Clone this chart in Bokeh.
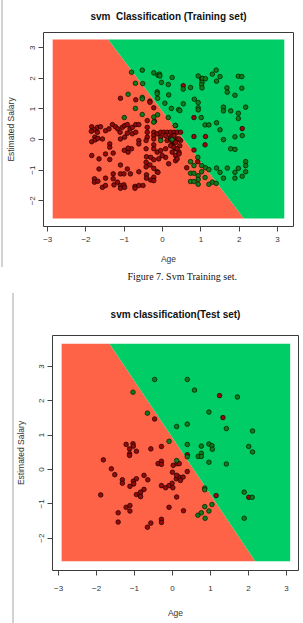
from bokeh.plotting import figure
from bokeh.models import Range1d, FixedTicker, Title
from bokeh.embed import file_html
from bokeh.resources import INLINE

# ---------------- data ----------------
x_ticks = [-3, -2, -1, 0, 1, 2, 3]
y_ticks = [-2, -1, 0, 1, 2, 3]

# SVM decision boundary: y = slope * (x - x_at_zero)
boundary_x_at_zero = 0.56
boundary_slope = -1.65

# extent of the prediction grid (scaled Age, scaled Estimated Salary)
train_grid_x = [-2.87, 3.18]
train_grid_y = [-2.58, 3.27]
test_grid_x = [-2.92, 3.10]
test_grid_y = [-2.67, 3.66]

# training set: class 1 (purchased, green) and class 0 (red)
train_pos_x = [-0.81, -0.53, -0.23, -0.12, -0.08, -0.07, 0.25, -0.03, 0.15, -0.71, -0.52, -0.14, -0.14, 0.16,
               -0.9, -0.53, -0.53, -0.13, 0.06, 0.42, -0.71, -0.53, -0.13, -0.23, 0.15, -1.0, -0.23, 0.34,
               1.4, 1.3, 1.5, 0.93, 1.04, 1.12, 1.03, 1.02, 1.03, 0.54, 0.73, 1.41, 1.98, 2.07, 1.68, 1.69,
               2.07, 1.89, 0.83, 0.93, 0.54, 0.23, 0.93, 0.93, 0.45, 1.59, 1.59, 1.78, 1.98, 2.17, 1.98,
               1.01, 1.11, 1.21, 1.41, 1.5, 2.08, 1.89, 1.59, 0.33,
               1.78, 1.89, 0.92, 0.73, 0.82, 1.02, 1.12, 1.21, 1.02, 0.73, 0.82, 0.93, 0.93, 1.11, 0.73,
               0.82, 0.93, 1.21, 1.3, 1.4, 1.41, 1.5, 1.69, 1.59, 1.89, 1.89, 1.98, 2.17, 2.17, 2.17, 2.08,
               -0.05, 0.25]
train_pos_y = [2.2, 2.27, 2.18, 2.1, 2.14, 2.08, 2.03, 1.87, 1.8, 1.84, 1.83, 1.56, 1.5, 1.46,
               1.48, 1.38, 1.33, 1.35, 1.19, 0.98, 1.02, 0.82, 0.81, 0.74, 0.72, 0.72, 0.57, 0.46,
               2.27, 2.14, 2.06, 2.08, 2.0, 1.99, 1.87, 1.79, 1.69, 1.65, 1.7, 1.91, 2.07, 2.06, 1.69, 1.55,
               1.68, 1.45, 1.32, 1.21, 1.17, 1.02, 1.04, 0.97, 0.95, 1.06, 0.94, 0.94, 0.86, 1.06, 0.69,
               0.72, 0.48, 0.48, 0.55, 0.32, 0.13, 0.09, 0.0, 0.46,
               -0.3, -0.32, -0.58, -0.72, -0.85, -0.85, -0.92, -0.98, -1.05, -1.1, -1.1, -1.18, -1.3, -1.24, -1.37,
               -1.37, -1.46, -1.46, -1.39, -1.43, -0.93, -1.07, -0.93, -1.26, -1.07, -1.26, -0.94, -0.72, -0.85, -1.05, -1.2,
               -0.03, 0.0]

train_neg_x = [0.54, 1.02, 0.82, 0.82, 1.12, 1.11, 0.82, 2.08, 0.92, 0.63,
               -1.1, -0.7, -0.33, -0.33, -0.23, -0.4, -0.21,
               -1.85, -1.79, -1.7, -1.62, -1.86, -1.7, -1.77, -1.49, -1.4, -1.31, -1.23, -1.17, -1.11, -1.05,
               -0.99, -0.92, -0.85, -0.79, -0.7, -0.62, -0.92, -0.79, -0.7, -0.99,
               -0.4, -0.4, -0.4, -0.23, -0.23, -0.23, -0.14, -0.05, 0.03, 0.12, 0.21, 0.3, 0.38, 0.47,
               -0.05, 0.08, 0.21, 0.3, 0.38, 0.12, 0.25, 0.47,
               -1.85, -1.76, -1.69, -1.57, -1.38, -1.38, -1.1, -1.49, -1.29, -1.0, -0.9, -0.81, -0.9, -1.85,
               -1.66, -1.38, -0.62, -0.62, -0.43, -0.43, -0.42, -0.43, -0.43, -0.23, -0.23, -0.14, -0.05,
               0.08, 0.25, 0.34, 0.25, 0.34, 0.43, -0.31, -0.23, -0.1, 0.08, 0.16, 0.34, -0.01, -0.33, -0.23,
               -0.14, -1.66, -1.1, -0.92, -0.62, -1.1, -1.01, -0.84, -1.78, -1.78, -1.69, -1.49, -1.29, -1.29,
               -1.18, -1.27, -1.57, -1.49, -1.1, -1.1, -1.01, -0.99, -0.72, -0.72, -0.62, -0.51, -0.42, -0.42,
               -0.31, -0.23, -0.23, -0.12,
               0.21, 0.28, 0.34, 0.43, 0.21, 0.3, 0.38, 0.45, 0.38, 0.43]
train_neg_y = [1.76, 1.98, 0.72, 0.1, 0.1, -0.17, -0.34, 0.36, -0.72, -0.92,
               1.35, 1.3, 1.26, 1.22, 1.04, 0.62, 0.6,
               0.42, 0.32, 0.4, 0.42, 0.27, 0.24, 0.08, 0.29, 0.35, 0.49, 0.42, 0.35, 0.24, 0.4,
               0.46, 0.49, 0.35, 0.4, 0.49, 0.49, 0.21, 0.19, 0.24, 0.08,
               0.4, 0.24, 0.08, 0.24, 0.13, 0.02, 0.19, 0.24, 0.24, 0.24, 0.24, 0.24, 0.24, 0.24,
               0.08, 0.13, 0.08, 0.13, 0.02, -0.03, -0.09, -0.03,
               -0.07, -0.01, 0.04, 0.02, -0.14, -0.25, 0.02, -0.47, -0.44, -0.35, -0.41, -0.3, -0.28, -0.52,
               -0.63, -0.65, -0.03, -0.14, -0.03, -0.3, -0.56, -0.74, -0.89, -0.17, -0.3, -0.41, -0.36,
               -0.3, -0.2, -0.3, -0.41, -0.52, -0.41, -0.58, -0.66, -0.63, -0.58, -0.79, -0.69, -0.52, -0.83, -0.94,
               -1.05, -0.96, -0.83, -0.96, -1.05, -1.12, -1.12, -1.12, -1.28, -1.39, -1.36, -1.26, -1.12, -1.28,
               -1.39, -1.48, -1.56, -1.5, -1.5, -1.59, -1.48, -1.56, -1.53, -1.59, -1.5, -1.5, -1.15, -1.26,
               -1.32, -1.23, -1.34, -1.07,
               0.02, -0.03, -0.09, 0.02, -0.2, -0.25, -0.3, -0.2, -0.63, -0.47]

# test set
test_pos_x = [-0.47, -1.04, -0.66, 0.11, -0.09, 0.39, 0.58, 1.71, 0.96, 0.39, 1.42, 2.11, 0.39, 0.76, 0.96,
              1.04, 1.05, 2.01, 2.11, 0.68, 0.76, 0.76, 0.96, 1.42, 0.11, 0.39,
              0.85, 0.85, 1.89, 2.1, 0.85, 1.04, 0.67, 0.76, 0.96, 0.86, 1.89]
test_pos_y = [2.62, 2.25, 1.64, 1.25, 0.82, 2.62, 2.31, 2.11, 1.67, 1.32, 1.19, 1.12, 0.73, 0.68, 0.74,
              0.69, 0.59, 0.67, 0.51, 0.38, 0.47, 0.38, 0.21, 0.16, 0.26, 0.37,
              -0.54, -0.59, -0.66, -0.81, -1.08, -1.02, -1.33, -1.26, -1.21, -1.42, -1.42]

test_neg_x = [-0.47, 1.24, 1.33, -1.22, -1.04, -1.03, -1.13, -1.13, -1.13, -0.95, -0.57, -0.29, -1.82, -1.61,
              -1.52, -1.32, -1.32, -1.03, -1.02, -0.95, -0.75, -0.65, -1.12, -1.89, -0.95, -0.86, -0.84, -0.75,
              -0.84, -1.22, -1.12, -1.12, -1.43, -1.43, -0.57, -0.66, -0.29, -0.29, -0.29, -0.18, -0.09, -0.01,
              0.01, 0.1, 0.17, 0.21, 0.11, 0.28, -0.38, -0.29, -0.29, 0.02, 0.0, 0.12, 0.18, 0.11, -0.09,
              0.29, 0.39, 1.15, 2.01, 0.39]
test_neg_y = [1.47, 2.15, 1.51, 0.73, 0.75, 0.68, 0.6, 0.46, 0.41, 0.53, 0.6, 0.67, 0.28, 0.02,
              -0.15, -0.3, -0.4, -0.34, -0.42, -0.27, -0.17, -0.3, -0.49, -0.74, -0.73, -0.73, -0.79, -0.58,
              -0.66, -1.1, -1.05, -1.21, -1.26, -1.53, -1.56, -1.68, -1.45, -1.54, -0.47, -0.53, -0.47, -0.4,
              -0.53, -0.27, -0.22, -0.32, -0.17, -0.22, 0.17, 0.24, 0.15, 0.12, -0.08, 0.17, 0.17, -0.8, -1.1,
              -1.2, -0.06, -0.76, -0.81, 0.43]

RED_BG = "#FF6347"      # tomato
GREEN_BG = "#00CD66"    # springgreen3
RED_PT = "#950A0A"
GREEN_PT = "#127A1A"
FONT = "Liberation Sans"


def boundary_x(y):
    return boundary_x_at_zero + y / boundary_slope


def make_plot(title, width, height, borders, xr, yr, grid_x, grid_y,
              pos_x, pos_y, neg_x, neg_y, ylab_standoff, tick_standoff_x, xlab_standoff,
              title_standoff, rule):
    left, right, top, bottom = borders
    p = figure(width=width, height=height, x_range=Range1d(*xr), y_range=Range1d(*yr),
               output_backend="svg", toolbar_location=None,
               min_border_left=left, min_border_right=right,
               min_border_top=top, min_border_bottom=bottom)
    p.grid.visible = False
    p.outline_line_color = "#3a3a3a"
    p.outline_line_width = 1
    p.background_fill_color = "white"
    p.border_fill_color = None
    rx, ry0, ry1 = rule
    p.styles = {
        "background-color": "white",
        "background-image": "linear-gradient(#d2d2d2, #d2d2d2)",
        "background-size": f"2px {ry1 - ry0}px",
        "background-position": f"{rx}px {ry0}px",
        "background-repeat": "no-repeat",
    }

    p.title.text = title
    p.title.text_font = FONT
    p.title.text_font_size = "10px"
    p.title.text_font_style = "bold"
    p.title.align = "center"
    p.title.vertical_align = "top"
    p.title.text_color = "#111111"
    p.title.standoff = title_standoff

    y0, y1 = grid_y
    x0, x1 = grid_x
    xb0, xb1 = boundary_x(y0), boundary_x(y1)
    p.patches(xs=[[x0, xb0, xb1, x0], [xb0, x1, x1, xb1]],
              ys=[[y0, y0, y1, y1], [y0, y0, y1, y1]],
              fill_color=[RED_BG, GREEN_BG], line_color=None)

    p.scatter(neg_x, neg_y, size=4.6, fill_color=RED_PT, line_color="#1a0000", line_width=0.7)
    p.scatter(pos_x, pos_y, size=4.6, fill_color=GREEN_PT, line_color="#001a00", line_width=0.7)

    for ax in (p.xaxis[0], p.yaxis[0]):
        ax.axis_line_color = None
        ax.major_tick_line_color = "#444444"
        ax.major_tick_out = 5
        ax.major_tick_in = 0
        ax.minor_tick_line_color = None
        ax.major_label_text_font = FONT
        ax.major_label_text_font_size = "8px"
        ax.major_label_text_color = "#333333"
        ax.axis_label_text_font = FONT
        ax.axis_label_text_font_size = "8.5px"
        ax.axis_label_text_font_style = "normal"
        ax.axis_label_text_color = "#333333"

    p.xaxis.ticker = FixedTicker(ticks=x_ticks)
    p.yaxis.ticker = FixedTicker(ticks=y_ticks)
    p.xaxis.axis_label = "Age"
    p.yaxis.axis_label = "Estimated Salary"
    p.yaxis.major_label_orientation = "vertical"
    p.xaxis.major_label_standoff = tick_standoff_x
    p.xaxis.axis_label_standoff = xlab_standoff
    p.yaxis.major_label_standoff = 3
    p.yaxis.axis_label_standoff = ylab_standoff
    return p


p1 = make_plot("svm\u00a0 Classification (Training set)", 303, 290, (43, 10, 32, 64),
               (-3.11, 3.42), (-2.84, 3.50), train_grid_x, train_grid_y,
               train_pos_x, train_pos_y, train_neg_x, train_neg_y,
               ylab_standoff=12, tick_standoff_x=5, xlab_standoff=9, title_standoff=18,
               rule=(1, 0, 267))
caption = Title(text="Figure 7. Svm Training set.", align="left", offset=84,
                text_font="Liberation Serif", text_font_size="10px", text_font_style="normal",
                text_color="#111111", standoff=4)
p1.add_layout(caption, "below")

p2 = make_plot("svm classification(Test set)", 303, 333, (52, 5, 45, 53),
               (-3.16, 3.32), (-2.94, 3.90), test_grid_x, test_grid_y,
               test_pos_x, test_pos_y, test_neg_x, test_neg_y,
               ylab_standoff=11, tick_standoff_x=10, xlab_standoff=14, title_standoff=27,
               rule=(12, 3, 333))

# two independent roots, stacked: keeps each plot's own frame position
open("out.html", "w").write(file_html([p1, p2], INLINE))
